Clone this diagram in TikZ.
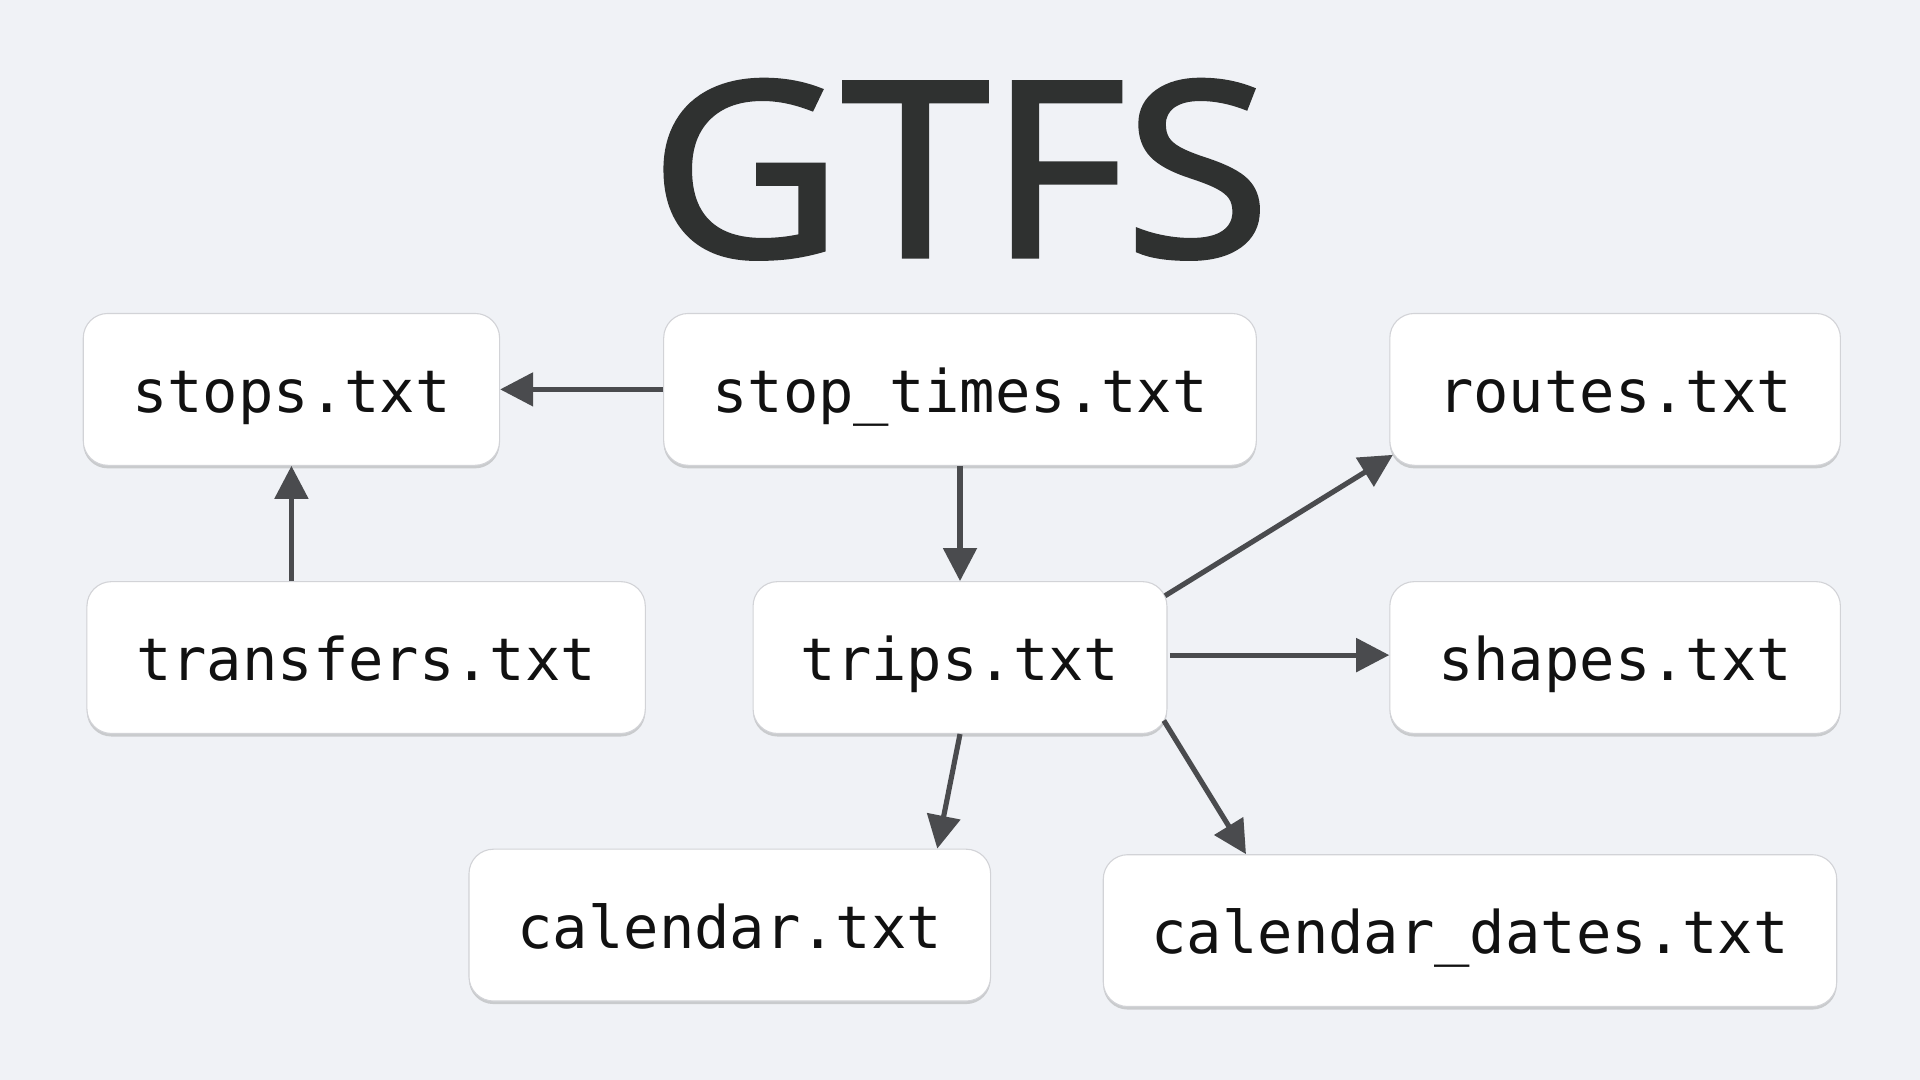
\documentclass[tikz,border=0pt]{standalone}
\usepackage{fontspec}
\setmainfont{Open Sans}
\newfontfamily\titlefont[FakeStretch=1.09, FakeBold=2.2]{Open Sans}
\newfontfamily\monofont{DejaVu Sans Mono}
\usetikzlibrary{arrows.meta,calc,shadows}
\definecolor{bgc}{HTML}{F0F2F6}
\definecolor{boxline}{HTML}{D2D3D7}
\definecolor{arrowc}{HTML}{4A4B4E}
\definecolor{titlec}{HTML}{2F3130}
\definecolor{textc}{HTML}{111111}
\tikzset{
  filebox/.style={draw=boxline, line width=0.9pt, fill=white, rounded corners=20pt,
    drop shadow={shadow xshift=0pt, shadow yshift=-2.5pt, opacity=0.28, fill=black!60},
    inner sep=0pt, text height=38pt, text depth=0pt, text=textc,
    font=\monofont\fontsize{48}{56}\selectfont, minimum height=124pt},
  link/.style={draw=arrowc, line width=4.2pt, -{Triangle[length=27pt, width=27pt]}}
}
\begin{document}
\begin{tikzpicture}[x=1pt,y=-1pt]
\path[fill=bgc, use as bounding box] (0,0) rectangle (1568,882);
\node[text=titlec, inner sep=0pt, anchor=base, font=\titlefont\fontsize{198}{220}\selectfont] (title) at (784,209) {GTFS};
\node[filebox, minimum width=340pt] (stops) at (238,318) {stops.txt};
\node[filebox, minimum width=484pt] (stoptimes) at (784,318) {stop\_times.txt};
\node[filebox, minimum width=368pt] (routes) at (1319,318) {routes.txt};
\node[filebox, minimum width=456pt] (transfers) at (299,537) {transfers.txt};
\node[filebox, minimum width=338pt] (trips) at (784,537) {trips.txt};
\node[filebox, minimum width=368pt] (shapes) at (1319,537) {shapes.txt};
\node[filebox, minimum width=426pt] (calendar) at (596,755.5) {calendar.txt};
\node[filebox, minimum width=599pt] (caldates) at (1200.5,760) {calendar\_dates.txt};
\draw[link] (stoptimes.west) -- (stops.east);
\draw[link] (transfers.north -| stops.south) -- (stops.south);
\draw[link] (stoptimes.south) -- (trips.north);
\draw[link] ($(trips.north east)+(-2,12)$) -- ($(routes.south west)+(3,-9)$);
\draw[link] ($(trips.east)+(2,-2)$) -- ($(shapes.west)+(0,-2)$);
\draw[link] (trips.south) -- ($(calendar.north east)+(-44,0)$);
\draw[link] ($(trips.south east)+(-3,-11)$) -- ($(caldates.north west)+(117,0)$);
\end{tikzpicture}
\end{document}
